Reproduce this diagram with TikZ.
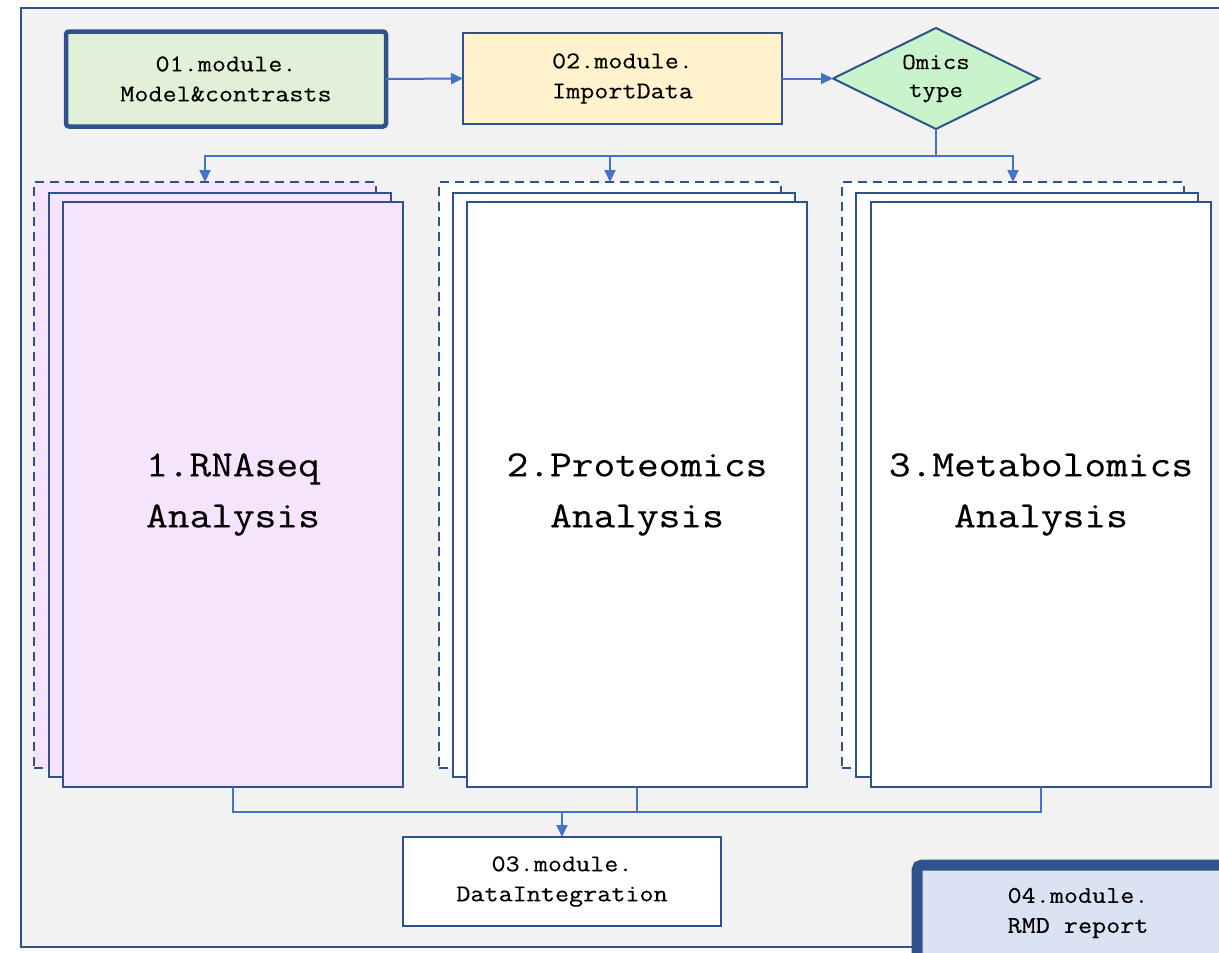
\documentclass[tikz,border=0pt]{standalone}
\usepackage{fontspec}
\setmonofont{Latin Modern Mono}[FakeStretch=1.14,FakeBold=0.3]
\usetikzlibrary{shapes.geometric,arrows.meta}
\definecolor{bgfill}{HTML}{F2F2F2}
\definecolor{frame}{HTML}{2F528F}
\definecolor{conn}{HTML}{4472C4}
\definecolor{greenbox}{HTML}{E2F0D9}
\definecolor{yellowbox}{HTML}{FFF2CC}
\definecolor{mint}{HTML}{C9F4CB}
\definecolor{pinkbox}{HTML}{F6E4FD}
\definecolor{bluebox}{HTML}{DAE3F3}
\tikzset{
  modbox/.style={draw=frame, line width=2pt, align=center, inner sep=0pt, outer sep=0pt,
    font=\ttfamily\fontsize{24}{30}\selectfont},
  stackdash/.style={draw=frame, line width=2.2pt, dash pattern=on 9pt off 6pt, anchor=north west,
    inner sep=0pt, outer sep=0pt, minimum width=342pt, minimum height=586pt},
  stackmid/.style={draw=frame, line width=2pt, anchor=north west,
    inner sep=0pt, outer sep=0pt, minimum width=342pt, minimum height=584pt},
  stacktop/.style={draw=frame, line width=2pt, anchor=north west, align=center,
    inner sep=0pt, outer sep=0pt, minimum width=340pt, minimum height=585pt,
    font=\ttfamily\fontsize{37}{51}\selectfont},
  conline/.style={draw=conn, line width=2pt},
  conarrow/.style={draw=conn, line width=2pt, -{Triangle[length=12pt,width=11pt]}, color=conn},
}
\begin{document}
\begin{tikzpicture}[x=1pt,y=-1pt]
\useasboundingbox (0,0) rectangle (1219,953);
\clip (0,0) rectangle (1219,953);
\fill[white] (0,0) rectangle (1219,953);
\draw[fill=bgfill, draw=frame, line width=2pt] (21,8) rectangle (1280,947);

% top row
\node[modbox, line width=4.5pt, rounded corners=3pt, fill=greenbox,
  minimum width=320pt, minimum height=95pt] (m01) at (226,79) {01.module.\\Model\&contrasts};
\node[modbox, fill=yellowbox, minimum width=319pt, minimum height=91pt] (m02) at (622.5,78.5) {02.module.\\ImportData};
\node[modbox, diamond, aspect=2, fill=mint, minimum width=206pt, minimum height=101pt,
  font=\ttfamily\fontsize{23}{28}\selectfont] (omics) at (936,78.5) {Omics\\type};

\draw[conarrow] (m01.east) -- (m02.west);
\draw[conarrow] (m02.east) -- (omics.west);

% stacks
\node[stackdash, fill=pinkbox] (g1a) at (34,182) {};
\node[stackmid, fill=pinkbox] (g1b) at (49,193) {};
\node[stacktop, fill=pinkbox] (g1c) at (63,202) {1.RNAseq\\Analysis};

\node[stackdash, fill=white] (g2a) at (439,182) {};
\node[stackmid, fill=white] (g2b) at (453,193) {};
\node[stacktop, fill=white] (g2c) at (467,202) {2.Proteomics\\Analysis};

\node[stackdash, fill=white] (g3a) at (842,182) {};
\node[stackmid, fill=white] (g3b) at (856,193) {};
\node[stacktop, fill=white] (g3c) at (871,202) {3.Metabolomics\\Analysis};

% split connectors
\draw[conline] (omics.south) -- ++(0,27) coordinate (split);
\draw[conarrow] (split) -| (g1a.north);
\draw[conarrow] (split) -| (g2a.north);
\draw[conarrow] (split) -| (g3a.north);

% bottom
\node[modbox, fill=white, minimum width=318pt, minimum height=89pt] (m03) at (562,881.5) {03.module.\\DataIntegration};
\draw[conline] (g1c.south) -- ++(0,25) -| (g3c.south);
\draw[conline] (g2c.south) -- ++(0,25);
\coordinate (join) at (m03.north |- 0,812);
\draw[conarrow] (join) -- (m03.north);

\node[modbox, line width=11pt, rounded corners=5pt, fill=bluebox,
  minimum width=322pt, minimum height=96pt] (m04) at (1078,913) {04.module.\\RMD report};
\end{tikzpicture}
\end{document}
